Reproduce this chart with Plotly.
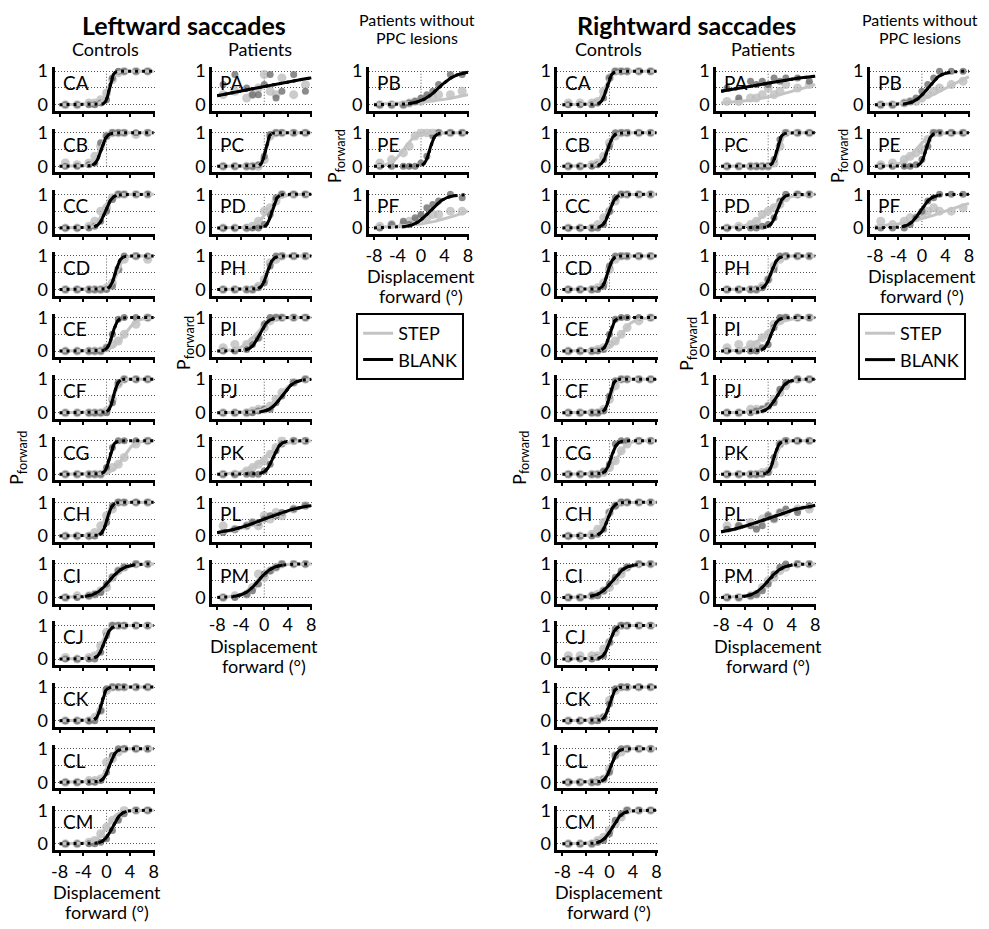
import numpy as np
import plotly.graph_objects as go

# ---------------- DATA ----------------
# x positions (deg) of the plotted data points
XPTS = [-7, -5, -3, -2, -1, 0, 1, 2, 3, 5, 7]

# ---- Leftward saccades ----
L_CTRL = ["CA", "CB", "CC", "CD", "CE", "CF", "CG", "CH", "CI", "CJ", "CK", "CL", "CM"]
# fitted psychometric functions: (PSE, width)
L_CTRL_STEP_FIT = {"CA": (0.3, 0.5), "CB": (-1.2, 0.6), "CC": (-0.6, 0.6), "CD": (1.8, 0.5),
                   "CE": (3.0, 1.0), "CF": (1.2, 0.5), "CG": (2.8, 0.9), "CH": (-0.3, 0.6),
                   "CI": (0.7, 1.3), "CJ": (-0.8, 0.6), "CK": (-1.0, 0.5), "CL": (0.2, 0.6),
                   "CM": (0.0, 0.9)}
L_CTRL_BLANK_FIT = {"CA": (0.5, 0.3), "CB": (-0.9, 0.45), "CC": (-0.2, 0.55), "CD": (1.5, 0.4),
                    "CE": (1.0, 0.4), "CF": (1.2, 0.35), "CG": (0.5, 0.35), "CH": (0.1, 0.4),
                    "CI": (0.5, 1.2), "CJ": (-0.4, 0.5), "CK": (-0.9, 0.35), "CL": (0.5, 0.5),
                    "CM": (1.0, 0.7)}
L_CTRL_STEP_PTS = {
    "CA": [0, 0, 0.05, 0.05, 0.15, 0.35, 0.75, 0.95, 1, 1, 1],
    "CB": [0.1, 0.05, 0.1, 0.3, 0.6, 0.9, 1, 1, 1, 0.95, 1],
    "CC": [0, 0, 0.05, 0.2, 0.5, 0.6, 0.9, 1, 1, 1, 1],
    "CD": [0, 0, 0, 0, 0, 0.05, 0.2, 0.6, 0.9, 1, 0.9],
    "CE": [0, 0, 0, 0, 0, 0.1, 0.2, 0.3, 0.5, 0.8, 1],
    "CF": [0, 0, 0, 0, 0, 0.05, 0.4, 0.85, 1, 1, 1],
    "CG": [0, 0, 0, 0, 0, 0.1, 0.2, 0.3, 0.5, 0.9, 1],
    "CH": [0, 0, 0, 0.1, 0.3, 0.6, 0.8, 1, 1, 1, 1],
    "CI": [0, 0.05, 0.05, 0.1, 0.2, 0.3, 0.6, 0.8, 0.9, 1, 1],
    "CJ": [0.05, 0, 0.05, 0.1, 0.4, 0.8, 1, 1, 1, 1, 1],
    "CK": [0, 0, 0, 0.1, 0.3, 0.9, 1, 1, 1, 1, 1],
    "CL": [0, 0, 0.05, 0.05, 0.1, 0.6, 0.7, 0.9, 1, 1, 1],
    "CM": [0, 0, 0.05, 0.1, 0.3, 0.5, 0.7, 0.8, 1, 1, 1]}
L_CTRL_BLANK_PTS = {
    "CA": [0, 0, 0, 0, 0.05, 0.15, 0.8, 1, 1, 1, 1],
    "CB": [0, 0, 0.05, 0.1, 0.7, 0.9, 1, 1, 1, 1, 1],
    "CC": [0, 0, 0, 0.05, 0.2, 0.5, 0.85, 1, 1, 1, 1],
    "CD": [0, 0, 0, 0, 0, 0, 0.1, 0.6, 1, 1, 1],
    "CE": [0, 0, 0, 0, 0, 0.1, 0.5, 0.95, 1, 1, 1],
    "CF": [0, 0, 0, 0, 0, 0, 0.3, 0.9, 1, 1, 1],
    "CG": [0, 0, 0, 0, 0, 0.2, 0.8, 1, 1, 1, 1],
    "CH": [0, 0, 0, 0, 0.1, 0.4, 0.9, 1, 1, 1, 1],
    "CI": [0, 0, 0.05, 0.1, 0.15, 0.4, 0.6, 0.8, 0.9, 1, 1],
    "CJ": [0, 0, 0, 0, 0.2, 0.7, 1, 1, 1, 1, 1],
    "CK": [0, 0, 0, 0, 0.3, 0.95, 1, 1, 1, 1, 1],
    "CL": [0, 0, 0, 0, 0.05, 0.3, 0.8, 1, 1, 1, 1],
    "CM": [0, 0, 0, 0, 0.05, 0.15, 0.4, 0.7, 0.9, 1, 1]}

L_PAT = ["PA", "PC", "PD", "PH", "PI", "PJ", "PK", "PL", "PM"]
L_PAT_STEP_FIT = {"PA": None, "PC": (0.3, 0.4), "PD": (0.5, 1.0), "PH": (0.3, 0.6),
                  "PI": (-1.5, 1.2), "PJ": (2.5, 1.2), "PK": (0.0, 1.5), "PL": (0.5, 3.5),
                  "PM": (-1.3, 1.2)}
L_PAT_BLANK_FIT = {"PA": (-1.3, 6.7), "PC": (0.2, 0.3), "PD": (1.3, 0.4), "PH": (0.5, 0.45),
                   "PI": (-0.8, 0.7), "PJ": (3.0, 1.0), "PK": (1.5, 0.6), "PL": (0.0, 3.6),
                   "PM": (-1.0, 1.2)}
L_PAT_STEP_PTS = {
    "PA": [0.3, 0.4, 0.2, 0.3, 0.5, 0.9, 0.4, 0.3, 0.8, 0.3, 0.6],
    "PC": [0, 0, 0, 0, 0, 0.2, 0.9, 1, 1, 1, 1],
    "PD": [0, 0, 0, 0.05, 0.2, 0.5, 0.6, 0.8, 1, 1, 1],
    "PH": [0, 0, 0, 0, 0.1, 0.3, 0.8, 0.9, 1, 1, 1],
    "PI": [0.1, 0.2, 0.2, 0.3, 0.4, 0.7, 0.9, 1, 1, 1, 1],
    "PJ": [0, 0, 0, 0.05, 0.1, 0.1, 0.2, 0.4, 0.6, 0.9, 1],
    "PK": [0, 0, 0.1, 0.2, 0.3, 0.4, 0.6, 0.8, 1, 1, 1],
    "PL": [0.3, 0.2, 0.3, 0.4, 0.3, 0.6, 0.5, 0.7, 0.6, 0.8, 0.9],
    "PM": [0, 0.05, 0.1, 0.3, 0.7, 0.6, 0.8, 0.9, 1, 1, 1]}
L_PAT_BLANK_PTS = {
    "PA": [0.6, 0.9, 0.5, 0.3, 0.3, 0.6, 0.9, 0.2, 0.4, 0.9, 0.4],
    "PC": [0, 0, 0, 0, 0.05, 0.3, 0.95, 1, 1, 1, 1],
    "PD": [0, 0, 0, 0, 0, 0.1, 0.4, 0.9, 1, 1, 1],
    "PH": [0, 0, 0, 0, 0.05, 0.2, 0.7, 1, 1, 1, 1],
    "PI": [0, 0, 0.05, 0.2, 0.4, 0.8, 1, 1, 1, 1, 1],
    "PJ": [0, 0, 0, 0, 0.05, 0.1, 0.1, 0.3, 0.5, 0.9, 1],
    "PK": [0, 0, 0, 0, 0, 0.1, 0.3, 0.7, 0.9, 1, 1],
    "PL": [0.1, 0.2, 0.3, 0.4, 0.4, 0.5, 0.6, 0.6, 0.7, 0.8, 0.9],
    "PM": [0, 0, 0.1, 0.2, 0.4, 0.7, 0.8, 0.9, 1, 1, 1]}

L_PPC = ["PB", "PE", "PF"]
L_PPC_STEP_FIT = {"PB": (12.0, 4.8), "PE": (-3.0, 1.0), "PF": (8.0, 4.0)}
L_PPC_BLANK_FIT = {"PB": (3.0, 1.5), "PE": (1.5, 0.4), "PF": (1.5, 1.3)}
L_PPC_STEP_PTS = {
    "PB": [0, 0, 0, 0.05, 0.1, 0.1, 0.2, 0.2, 0.3, 0.3, 0.4],
    "PE": [0.1, 0.2, 0.4, 0.6, 0.9, 1, 1, 1, 1, 1, 1],
    "PF": [0.05, 0.1, 0.1, 0.2, 0.2, 0.3, 0.3, 0.4, 0.4, 0.5, 0.5]}
L_PPC_BLANK_PTS = {
    "PB": [0, 0, 0, 0.05, 0.1, 0.2, 0.3, 0.4, 0.6, 0.9, 0.9],
    "PE": [0, 0, 0, 0, 0, 0.1, 0.3, 0.9, 1, 1, 1],
    "PF": [0, 0.1, 0.2, 0.1, 0.3, 0.4, 0.6, 0.7, 0.8, 1, 0.9]}

# ---- Rightward saccades ----
R_CTRL = L_CTRL
R_CTRL_STEP_FIT = {"CA": (-0.8, 0.6), "CB": (-0.5, 0.6), "CC": (-0.3, 0.6), "CD": (-0.2, 0.5),
                   "CE": (2.0, 1.0), "CF": (0.2, 0.5), "CG": (1.3, 0.8), "CH": (-0.8, 0.7),
                   "CI": (0.8, 1.2), "CJ": (-0.3, 0.7), "CK": (0.0, 0.5), "CL": (0.2, 0.6),
                   "CM": (0.3, 0.9)}
R_CTRL_BLANK_FIT = {"CA": (-0.5, 0.4), "CB": (-0.3, 0.45), "CC": (0.0, 0.5), "CD": (-0.3, 0.4),
                    "CE": (0.0, 0.4), "CF": (0.0, 0.35), "CG": (0.3, 0.45), "CH": (-0.3, 0.5),
                    "CI": (0.5, 1.1), "CJ": (0.0, 0.5), "CK": (0.0, 0.4), "CL": (0.3, 0.5),
                    "CM": (0.5, 0.8)}
R_CTRL_STEP_PTS = {
    "CA": [0.05, 0.05, 0.05, 0.1, 0.4, 0.8, 1, 1, 1, 1, 1],
    "CB": [0, 0, 0.05, 0.1, 0.3, 0.7, 0.9, 1, 1, 1, 1],
    "CC": [0, 0, 0, 0.1, 0.3, 0.5, 0.8, 1, 1, 1, 1],
    "CD": [0, 0, 0, 0.05, 0.2, 0.6, 0.9, 1, 1, 1, 1],
    "CE": [0, 0, 0, 0.05, 0.1, 0.2, 0.3, 0.5, 0.7, 0.9, 1],
    "CF": [0, 0, 0, 0, 0.1, 0.4, 0.8, 1, 1, 1, 1],
    "CG": [0, 0, 0, 0, 0.05, 0.2, 0.4, 0.7, 0.9, 1, 1],
    "CH": [0, 0, 0.05, 0.2, 0.4, 0.7, 0.9, 1, 1, 1, 1],
    "CI": [0, 0, 0.05, 0.1, 0.2, 0.3, 0.5, 0.7, 0.9, 1, 1],
    "CJ": [0.1, 0.1, 0.1, 0.1, 0.3, 0.5, 0.8, 1, 1, 1, 1],
    "CK": [0, 0, 0, 0.05, 0.1, 0.6, 0.9, 1, 1, 1, 1],
    "CL": [0, 0, 0, 0.05, 0.1, 0.4, 0.8, 0.9, 1, 1, 1],
    "CM": [0, 0, 0, 0.1, 0.2, 0.4, 0.6, 0.8, 1, 1, 1]}
R_CTRL_BLANK_PTS = {
    "CA": [0, 0, 0, 0.05, 0.2, 0.8, 1, 1, 1, 1, 1],
    "CB": [0, 0, 0, 0.05, 0.2, 0.6, 1, 1, 1, 1, 1],
    "CC": [0, 0, 0, 0, 0.1, 0.5, 0.9, 1, 1, 1, 1],
    "CD": [0, 0, 0, 0, 0.1, 0.7, 1, 1, 1, 1, 1],
    "CE": [0, 0, 0, 0, 0.05, 0.5, 0.95, 1, 1, 1, 1],
    "CF": [0, 0, 0, 0, 0.05, 0.5, 0.95, 1, 1, 1, 1],
    "CG": [0, 0, 0, 0, 0.1, 0.3, 0.9, 1, 1, 1, 1],
    "CH": [0, 0, 0, 0.05, 0.2, 0.7, 0.9, 1, 1, 1, 1],
    "CI": [0, 0, 0.05, 0.05, 0.2, 0.4, 0.6, 0.8, 0.9, 1, 1],
    "CJ": [0, 0, 0, 0.05, 0.1, 0.5, 0.9, 1, 1, 1, 1],
    "CK": [0, 0, 0, 0, 0.1, 0.5, 0.95, 1, 1, 1, 1],
    "CL": [0, 0, 0, 0, 0.1, 0.3, 0.8, 1, 1, 1, 1],
    "CM": [0, 0, 0, 0.05, 0.1, 0.3, 0.7, 0.9, 1, 1, 1]}

R_PAT = L_PAT
R_PAT_STEP_FIT = {"PA": (6.1, 4.8), "PC": (1.8, 0.4), "PD": (0.0, 1.5), "PH": (0.6, 0.6),
                  "PI": (-0.5, 1.5), "PJ": (1.5, 1.0), "PK": (1.2, 0.5), "PL": (-0.5, 3.5),
                  "PM": (0.0, 1.2)}
R_PAT_BLANK_FIT = {"PA": (-5.0, 7.5), "PC": (1.5, 0.35), "PD": (1.5, 0.5), "PH": (0.5, 0.5),
                   "PI": (0.5, 0.5), "PJ": (1.5, 0.8), "PK": (1.0, 0.4), "PL": (-0.5, 3.8),
                   "PM": (0.0, 1.2)}
R_PAT_STEP_PTS = {
    "PA": [0.1, 0.1, 0.2, 0.2, 0.3, 0.5, 0.3, 0.4, 0.6, 0.5, 0.6],
    "PC": [0, 0, 0, 0, 0, 0, 0.1, 0.6, 1, 1, 1],
    "PD": [0, 0.05, 0.1, 0.2, 0.4, 0.5, 0.6, 0.7, 0.9, 1, 1],
    "PH": [0, 0, 0, 0, 0.1, 0.3, 0.7, 0.9, 1, 1, 1],
    "PI": [0.1, 0.2, 0.2, 0.2, 0.4, 0.5, 0.8, 0.9, 1, 1, 1],
    "PJ": [0, 0, 0.1, 0.1, 0.1, 0.2, 0.4, 0.6, 0.8, 1, 1],
    "PK": [0, 0, 0, 0, 0.05, 0.1, 0.3, 0.9, 1, 1, 1],
    "PL": [0.3, 0.3, 0.4, 0.3, 0.5, 0.6, 0.5, 0.7, 0.7, 0.8, 0.8],
    "PM": [0, 0, 0.05, 0.1, 0.3, 0.5, 0.6, 0.8, 0.9, 1, 1]}
R_PAT_BLANK_PTS = {
    "PA": [0.5, 0.2, 0.7, 0.6, 0.7, 0.6, 0.8, 0.7, 0.8, 0.8, 0.7],
    "PC": [0, 0, 0, 0, 0, 0, 0.2, 0.8, 1, 1, 1],
    "PD": [0, 0, 0, 0, 0.05, 0.1, 0.3, 0.8, 1, 1, 1],
    "PH": [0, 0, 0, 0, 0.05, 0.3, 0.6, 1, 1, 1, 1],
    "PI": [0, 0, 0, 0, 0.1, 0.2, 0.7, 1, 1, 1, 1],
    "PJ": [0, 0, 0, 0.05, 0.1, 0.2, 0.3, 0.7, 0.9, 1, 1],
    "PK": [0, 0, 0, 0, 0, 0.05, 0.5, 0.9, 1, 1, 1],
    "PL": [0.2, 0.3, 0.3, 0.2, 0.3, 0.6, 0.5, 0.7, 0.8, 0.7, 0.9],
    "PM": [0, 0, 0.05, 0.1, 0.2, 0.4, 0.7, 0.9, 1, 1, 1]}

R_PPC = L_PPC
R_PPC_STEP_FIT = {"PB": (4.0, 2.5), "PE": (-1.0, 1.2), "PF": (4.0, 4.0)}
R_PPC_BLANK_FIT = {"PB": (1.0, 1.1), "PE": (0.7, 0.4), "PF": (-0.3, 0.9)}
R_PPC_STEP_PTS = {
    "PB": [0, 0, 0.05, 0.1, 0.1, 0.2, 0.3, 0.4, 0.5, 0.6, 0.7],
    "PE": [0.05, 0.1, 0.2, 0.3, 0.4, 0.5, 0.8, 1, 1, 1, 1],
    "PF": [0.2, 0.1, 0.2, 0.3, 0.3, 0.4, 0.5, 0.6, 0.5, 0.5, 0.6]}
R_PPC_BLANK_PTS = {
    "PB": [0, 0, 0.05, 0.1, 0.2, 0.4, 0.6, 0.8, 1, 1, 1],
    "PE": [0, 0, 0, 0, 0.05, 0.2, 0.6, 1, 1, 1, 1],
    "PF": [0, 0, 0, 0.1, 0.3, 0.5, 0.8, 0.9, 1, 1, 1]}

X_TICKS = [-8, -4, 0, 4, 8]
X_TICK_TEXT = ["-8", "-4", "0", "4", "8"]
Y_TICKS = [0, 1]
Y_TICK_TEXT = ["0", "1"]
Y_MID_GRID = [0.5]

# ---------------- STYLE / LAYOUT ----------------
W, H = 989, 929
FONT = "Lato, 'Open Sans', sans-serif"
STEP_COLOR = "#c4c4c4"
BLANK_COLOR = "#000000"
STEP_PT_COLOR = "rgba(185,185,185,0.75)"
BLANK_PT_COLOR = "rgba(110,110,110,0.8)"
GRID_COLOR = "#555555"
GRID_DASH = "1px,2px"
PANEL_W = 101
ROW0_Y1 = 64.0      # pixel y of P=1 in first row
ROW_PITCH = 62.4
PX_PER_UNIT = 34.0
XR = [-8.84, 8.2]
YR = [-0.18, 1.12]
LABEL_SIZE = 19
HEADER_SIZE = 18
AXTITLE_SIZE = 18

COLUMNS = [
    dict(names=L_CTRL, sf=L_CTRL_STEP_FIT, bf=L_CTRL_BLANK_FIT, sp=L_CTRL_STEP_PTS, bp=L_CTRL_BLANK_PTS, axpx=51),
    dict(names=L_PAT, sf=L_PAT_STEP_FIT, bf=L_PAT_BLANK_FIT, sp=L_PAT_STEP_PTS, bp=L_PAT_BLANK_PTS, axpx=210),
    dict(names=L_PPC, sf=L_PPC_STEP_FIT, bf=L_PPC_BLANK_FIT, sp=L_PPC_STEP_PTS, bp=L_PPC_BLANK_PTS, axpx=368),
    dict(names=R_CTRL, sf=R_CTRL_STEP_FIT, bf=R_CTRL_BLANK_FIT, sp=R_CTRL_STEP_PTS, bp=R_CTRL_BLANK_PTS, axpx=558),
    dict(names=R_PAT, sf=R_PAT_STEP_FIT, bf=R_PAT_BLANK_FIT, sp=R_PAT_STEP_PTS, bp=R_PAT_BLANK_PTS, axpx=718),
    dict(names=R_PPC, sf=R_PPC_STEP_FIT, bf=R_PPC_BLANK_FIT, sp=R_PPC_STEP_PTS, bp=R_PPC_BLANK_PTS, axpx=873),
]

XCURVE = np.linspace(-8, 8, 321)


def psy(x, p):
    mu, s = p
    return 1.0 / (1.0 + np.exp(-(x - mu) / s))


fig = go.Figure()
layout = dict(width=W, height=H, margin=dict(l=0, r=0, t=0, b=0),
              paper_bgcolor="white", plot_bgcolor="white",
              font=dict(family=FONT, color="black", size=18))
shapes = []
annotations = []


def ann(text, xpx, ypx, size, bold=False, angle=0):
    annotations.append(dict(text=f"<b>{text}</b>" if bold else text, xref="paper", yref="paper",
                            x=xpx / W, y=1 - ypx / H, xanchor="center", yanchor="middle",
                            showarrow=False, textangle=angle, font=dict(size=size)))


idx = 0
for col in COLUMNS:
    n = len(col["names"])
    x0 = col["axpx"]
    for r, name in enumerate(col["names"]):
        idx += 1
        xa = "x" if idx == 1 else f"x{idx}"
        ya = "y" if idx == 1 else f"y{idx}"
        y1px = ROW0_Y1 + ROW_PITCH * r
        top = y1px - (YR[1] - 1) * PX_PER_UNIT
        bot = y1px + (1 - YR[0]) * PX_PER_UNIT
        bottom_row = (r == n - 1)
        layout["xaxis" if idx == 1 else f"xaxis{idx}"] = dict(
            domain=[x0 / W, (x0 + PANEL_W) / W], range=XR, anchor=ya,
            showline=True, linewidth=3, linecolor="black",
            tickvals=X_TICKS, ticktext=X_TICK_TEXT, ticks="outside", ticklen=3, tickwidth=2,
            tickcolor="black", showticklabels=bottom_row, tickfont=dict(size=18),
            showgrid=False, zeroline=False, fixedrange=True)
        layout["yaxis" if idx == 1 else f"yaxis{idx}"] = dict(
            domain=[1 - bot / H, 1 - top / H], range=YR, anchor=xa,
            showline=True, linewidth=3, linecolor="black",
            tickvals=Y_TICKS, ticktext=Y_TICK_TEXT, ticks="", tickfont=dict(size=18),
            showgrid=True, gridcolor=GRID_COLOR, gridwidth=1, griddash=GRID_DASH,
            minor=dict(tickvals=Y_MID_GRID, showgrid=True, gridcolor=GRID_COLOR,
                       gridwidth=1, griddash=GRID_DASH, ticks=""),
            zeroline=False, fixedrange=True)
        shapes.append(dict(type="line", xref=xa, yref=ya, x0=0, x1=0, y0=0, y1=1,
                           line=dict(color=GRID_COLOR, width=1, dash=GRID_DASH), layer="below"))

        # data points
        fig.add_trace(go.Scatter(x=XPTS, y=col["sp"][name], mode="markers",
                                 marker=dict(size=9, color=STEP_PT_COLOR, line=dict(width=0)),
                                 xaxis=xa, yaxis=ya, showlegend=False, hoverinfo="skip"))
        fig.add_trace(go.Scatter(x=XPTS, y=col["bp"][name], mode="markers",
                                 marker=dict(size=7, color=BLANK_PT_COLOR, line=dict(width=0)),
                                 xaxis=xa, yaxis=ya, showlegend=False, hoverinfo="skip"))
        # fitted curves
        if col["sf"][name] is not None:
            fig.add_trace(go.Scatter(x=XCURVE, y=psy(XCURVE, col["sf"][name]), mode="lines",
                                     line=dict(color=STEP_COLOR, width=3),
                                     xaxis=xa, yaxis=ya, showlegend=False, hoverinfo="skip"))
        yb = psy(XCURVE, col["bf"][name])
        fig.add_trace(go.Scatter(x=XCURVE, y=yb, mode="lines",
                                 line=dict(color=BLANK_COLOR, width=3, dash="3px,4px"),
                                 xaxis=xa, yaxis=ya, showlegend=False, hoverinfo="skip"))
        mid = (yb > 0.03) & (yb < 0.97)
        fig.add_trace(go.Scatter(x=XCURVE[mid], y=yb[mid], mode="lines",
                                 line=dict(color=BLANK_COLOR, width=3),
                                 xaxis=xa, yaxis=ya, showlegend=False, hoverinfo="skip"))
        # panel label
        annotations.append(dict(text=name, xref="paper", yref=ya, x=(x0 + 6) / W, y=0.66,
                                xanchor="left", yanchor="middle", showarrow=False,
                                font=dict(size=LABEL_SIZE)))
        if bottom_row:
            cx = x0 + PANEL_W * (0 - XR[0]) / (XR[1] - XR[0])
            ann("Displacement", cx, bot + 43, AXTITLE_SIZE)
            ann("forward (°)", cx, bot + 63, AXTITLE_SIZE)

# headers
for off, title in [(0, "Leftward saccades"), (507, "Rightward saccades")]:
    ann(title, 181 + off, 17, 25, bold=True)
    ann("Controls", 102 + off, 42, HEADER_SIZE)
    ann("Patients", 258 + off, 42, HEADER_SIZE)
    ann("Patients without", 416 + off, 12, 16)
    ann("PPC lesions", 416 + off, 30, 16)
    ann("P<sub>forward</sub>", 13 + off, 456, 18, angle=-90)
    ann("P<sub>forward</sub>", 182 + off, 340, 18, angle=-90)
    ann("P<sub>forward</sub>", 334 + off, 150, 18, angle=-90)

# legends
for lg, xpx in [("legend", 355), ("legend2", 861)]:
    fig.add_trace(go.Scatter(x=[None], y=[None], mode="lines", name="STEP",
                             line=dict(color=STEP_COLOR, width=3), legend=lg))
    fig.add_trace(go.Scatter(x=[None], y=[None], mode="lines", name="BLANK",
                             line=dict(color=BLANK_COLOR, width=3), legend=lg))
    layout[lg] = dict(x=xpx / W, y=1 - 309 / H, xanchor="left", yanchor="top",
                      bordercolor="black", borderwidth=2, bgcolor="white",
                      font=dict(size=18), itemwidth=30, tracegroupgap=0)

layout["shapes"] = shapes
layout["annotations"] = annotations
layout["showlegend"] = True
fig.update_layout(**layout)

PIN_JS = ("document.documentElement.style.overflow='hidden';"
          "document.body.style.margin='0px';document.body.style.overflow='hidden';"
          "var gd=document.getElementById('{plot_id}');"
          "gd.style.position='fixed';gd.style.left='0px';gd.style.top='0px';")
fig.write_html("out.html", post_script=PIN_JS, config={"displayModeBar": False})
